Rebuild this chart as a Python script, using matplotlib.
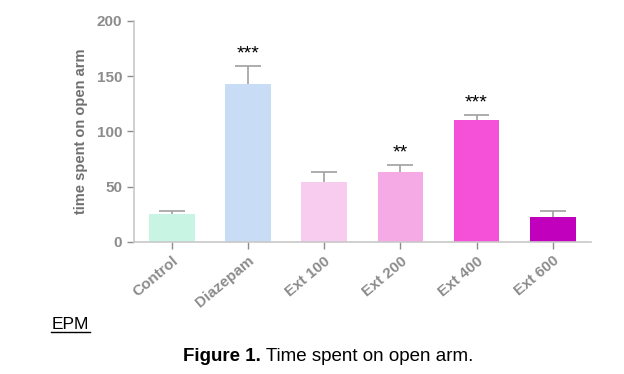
import matplotlib.pyplot as plt
import numpy as np

groups = ['Control', 'Diazepam', 'Ext 100', 'Ext 200', 'Ext 400', 'Ext 600']
means = [25, 143, 54, 63, 110, 23]
sem = [3, 16, 9, 7, 5, 5]
stars = ['', '***', '', '**', '***', '']
colors = ['#c8f5e3', '#c8dcf5', '#f8ccef', '#f5aae6', '#f550d8', '#c000bc']

gray = '#8c8c8c'
plt.rcParams['font.family'] = ['Liberation Sans', 'DejaVu Sans']

fig = plt.figure(figsize=(6.24, 3.74), dpi=100)
ax = fig.add_axes([0.2147, 0.353, 0.732, 0.591])

x = np.arange(len(groups))
tops = np.array(means) + np.array(sem)
ax.bar(x, means, width=0.6, color=colors, zorder=2)
# upper error bars only
ax.vlines(x, means, tops, color='#a0a0a0', lw=1.2, zorder=1)
ax.hlines(tops, x - 0.17, x + 0.17, color='#a0a0a0', lw=1.2, zorder=1)
for xi, t, st in zip(x, tops, stars):
    if st:
        ax.text(xi, t + 3, st, ha='center', va='bottom', fontsize=14, color='black')

ax.set_xlim(-0.5, 5.5)
ax.set_ylim(0, 200)
ax.set_yticks([0, 50, 100, 150, 200])
ax.set_xticks(x)
ax.set_xticklabels(groups, rotation=40, ha='right', rotation_mode='anchor')
ax.tick_params(colors=gray, labelsize=11, width=1, length=5)
for lab in ax.get_xticklabels() + ax.get_yticklabels():
    lab.set_fontweight('bold')
ax.set_ylabel('time spent on open arm', fontsize=10.5, fontweight='bold', color='#707070', labelpad=6)
for side in ['top', 'right']:
    ax.spines[side].set_visible(False)
for side in ['left', 'bottom']:
    ax.spines[side].set_color('#c8c8c8')
    ax.spines[side].set_linewidth(1.2)

fig.text(0.082, 0.12, 'EPM', fontsize=12.5, color='black')
fig.add_artist(plt.Line2D([0.082, 0.144], [0.113, 0.113], color='black', lw=1))
t1 = fig.text(0.293, 0.035, 'Figure 1.', fontsize=13.5, fontweight='bold', color='black')
ax.annotate(' Time spent on open arm.', xy=(1, 0), xycoords=t1, va='bottom', ha='left',
            fontsize=13.5, color='black', annotation_clip=False)

fig.savefig('out.png', dpi=100)
